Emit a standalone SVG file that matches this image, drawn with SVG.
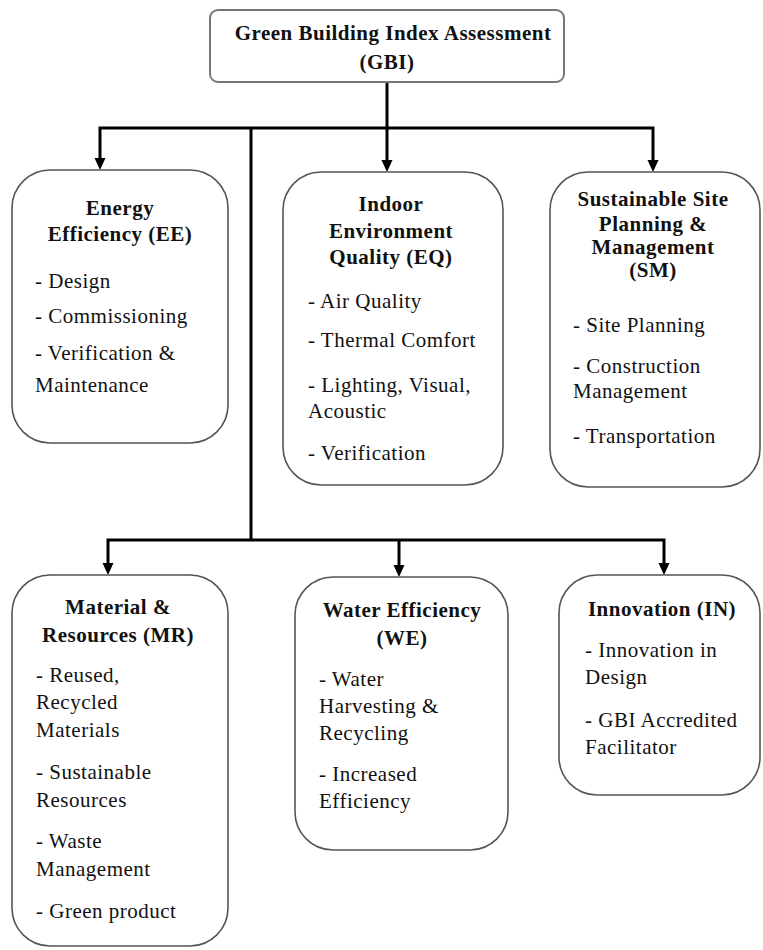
<svg xmlns="http://www.w3.org/2000/svg" width="763" height="950" viewBox="0 0 763 950">
<defs>
<style>
.box{fill:#fff;stroke:#555;stroke-width:1.6}
.top{fill:#fff;stroke:#777;stroke-width:2}
.con{fill:none;stroke:#000;stroke-width:3;stroke-linejoin:miter}
text{font-family:"Liberation Serif","Times New Roman",serif;font-size:21px;fill:#111;letter-spacing:0.5px}
.t{font-weight:bold;text-anchor:middle}
</style>
<marker id="ah" viewBox="0 0 12 12" refX="6" refY="6" markerWidth="12" markerHeight="12" markerUnits="userSpaceOnUse" orient="auto">
<path d="M0,0.5 L12,6 L0,11.5 z" fill="#000"/>
</marker>
</defs>
<g id="connectors">
<path class="con" d="M387,82 V128"/>
<path class="con" d="M387,128 H100 V164" marker-end="url(#ah)"/>
<path class="con" d="M387,128 H653 V166" marker-end="url(#ah)"/>
<path class="con" d="M387,128 V166" marker-end="url(#ah)"/>
<path class="con" d="M251,128 V540"/>
<path class="con" d="M251,540 H108 V569" marker-end="url(#ah)"/>
<path class="con" d="M251,540 H664 V569" marker-end="url(#ah)"/>
<path class="con" d="M399,540 V571" marker-end="url(#ah)"/>
</g>
<g id="gbi">
<rect class="top" x="210" y="10" width="354" height="72" rx="8"/>
<text class="t" x="393" y="40">Green Building Index Assessment</text>
<text class="t" x="387" y="69">(GBI)</text>
</g>
<g id="ee">
<rect class="box" x="12" y="170" width="216" height="273" rx="38"/>
<text class="t" x="120" y="215">Energy</text>
<text class="t" x="120" y="241">Efficiency (EE)</text>
<text x="35" y="288">- Design</text>
<text x="35" y="323">- Commissioning</text>
<text x="35" y="360">- Verification &amp;</text>
<text x="35" y="392">Maintenance</text>
</g>
<g id="eq">
<rect class="box" x="283" y="172" width="220" height="313" rx="38"/>
<text class="t" x="391" y="211">Indoor</text>
<text class="t" x="391" y="238">Environment</text>
<text class="t" x="391" y="264">Quality (EQ)</text>
<text x="308" y="308">- Air Quality</text>
<text x="308" y="347">- Thermal Comfort</text>
<text x="308" y="392">- Lighting, Visual,</text>
<text x="308" y="418">Acoustic</text>
<text x="308" y="460">- Verification</text>
</g>
<g id="sm">
<rect class="box" x="550" y="172" width="210" height="315" rx="38"/>
<text class="t" x="653" y="206">Sustainable Site</text>
<text class="t" x="653" y="231">Planning &amp;</text>
<text class="t" x="653" y="254">Management</text>
<text class="t" x="653" y="277">(SM)</text>
<text x="573" y="332">- Site Planning</text>
<text x="573" y="373">- Construction</text>
<text x="573" y="398">Management</text>
<text x="573" y="443">- Transportation</text>
</g>
<g id="mr">
<rect class="box" x="12" y="575" width="216" height="371" rx="38"/>
<text class="t" x="118" y="614">Material &amp;</text>
<text class="t" x="118" y="642">Resources (MR)</text>
<text x="36" y="682">- Reused,</text>
<text x="36" y="709">Recycled</text>
<text x="36" y="737">Materials</text>
<text x="36" y="779">- Sustainable</text>
<text x="36" y="807">Resources</text>
<text x="36" y="848">- Waste</text>
<text x="36" y="876">Management</text>
<text x="36" y="918">- Green product</text>
</g>
<g id="we">
<rect class="box" x="295" y="577" width="213" height="273" rx="38"/>
<text class="t" x="402" y="617">Water Efficiency</text>
<text class="t" x="402" y="645">(WE)</text>
<text x="319" y="686">- Water</text>
<text x="319" y="713">Harvesting &amp;</text>
<text x="319" y="740">Recycling</text>
<text x="319" y="781">- Increased</text>
<text x="319" y="808">Efficiency</text>
</g>
<g id="in">
<rect class="box" x="559" y="575" width="201" height="220" rx="38"/>
<text class="t" x="662" y="616">Innovation (IN)</text>
<text x="585" y="657">- Innovation in</text>
<text x="585" y="684">Design</text>
<text x="585" y="727">- GBI Accredited</text>
<text x="585" y="754">Facilitator</text>
</g>
</svg>
